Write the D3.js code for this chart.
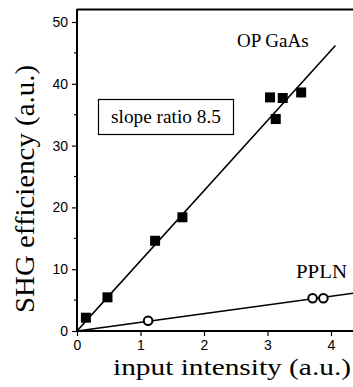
<!DOCTYPE html>
<html>
<head>
<meta charset="utf-8">
<script src="https://cdn.jsdelivr.net/npm/d3@7"></script>
<style>
  body { margin: 0; background: #fff; }
  svg { display: block; }
</style>
</head>
<body>
<div id="chart"></div>
<script>
// Chart size
const width = 353;
const height = 387;

// OP GaAs measurements (filled squares)
const gaasX = [0.14, 0.48, 1.23, 1.66, 3.04, 3.24, 3.13, 3.53];
const gaasY = [2.15, 5.45, 14.6, 18.4, 37.8, 37.7, 34.3, 38.6];

// PPLN measurements (open circles)
const pplnX = [1.12, 3.71, 3.88];
const pplnY = [1.67, 5.3, 5.3];

// Linear fit end points
const gaasFitX = [0, 4.07];
const gaasFitY = [0, 46.2];
const pplnFitX = [0, 4.45];
const pplnFitY = [0, 6.25];

// Tick values
const xTicks = [0, 1, 2, 3, 4];
const yTicks = [0, 10, 20, 30, 40, 50];
const yMinorTicks = [5, 15, 25, 35, 45];

const serif = '"Liberation Serif", "Times New Roman", serif';
const sans = '"Liberation Sans", Arial, sans-serif';

// Scales
const xScale = d3.scaleLinear().domain([0, 4]).range([77, 331]);
const yScale = d3.scaleLinear().domain([0, 50]).range([331, 22]);

const svg = d3.select('#chart')
    .append('svg')
    .attr('width', width)
    .attr('height', height);

// Clip the plotting area
svg.append('clipPath')
    .attr('id', 'plot-clip')
    .append('rect')
    .attr('x', xScale(0))
    .attr('y', 9)
    .attr('width', width - xScale(0))
    .attr('height', yScale(0) - 9);

// Frame: top border
svg.append('line')
    .attr('x1', xScale(0))
    .attr('x2', width)
    .attr('y1', 9.5)
    .attr('y2', 9.5)
    .attr('stroke', '#000')
    .attr('stroke-width', 2);

// x axis
const xAxis = svg.append('g')
    .attr('transform', `translate(0, ${yScale(0)})`)
    .call(d3.axisBottom(xScale).tickValues(xTicks).tickSize(5).tickPadding(4).tickFormat(d3.format('d')));

xAxis.select('.domain').remove();
xAxis.append('line')
    .attr('x1', xScale(0) - 1)
    .attr('x2', width)
    .attr('stroke', '#000')
    .attr('stroke-width', 2);

// y axis
const yAxis = svg.append('g')
    .attr('transform', `translate(${xScale(0)}, 0)`)
    .call(d3.axisLeft(yScale).tickValues(yTicks).tickSize(5).tickPadding(4).tickFormat(d3.format('d')));

yAxis.select('.domain').remove();
yAxis.append('line')
    .attr('y1', 9)
    .attr('y2', yScale(0) + 1)
    .attr('stroke', '#000')
    .attr('stroke-width', 2);

yAxis.selectAll('.minor')
    .data(yMinorTicks)
    .enter()
    .append('line')
    .attr('class', 'minor')
    .attr('x1', -3)
    .attr('x2', 0)
    .attr('y1', d => yScale(d))
    .attr('y2', d => yScale(d))
    .attr('stroke', '#000')
    .attr('stroke-width', 1.2);

svg.selectAll('.tick line').attr('stroke-width', 1.2);
svg.selectAll('.tick text')
    .attr('font-family', sans)
    .attr('font-size', 14)
    .attr('fill', '#000');

// Fit lines
const plot = svg.append('g').attr('clip-path', 'url(#plot-clip)');

const line = d3.line()
    .x(d => xScale(d[0]))
    .y(d => yScale(d[1]));

plot.append('path')
    .datum(d3.zip(gaasFitX, gaasFitY))
    .attr('d', line)
    .attr('fill', 'none')
    .attr('stroke', '#000')
    .attr('stroke-width', 1.6);

plot.append('path')
    .datum(d3.zip(pplnFitX, pplnFitY))
    .attr('d', line)
    .attr('fill', 'none')
    .attr('stroke', '#000')
    .attr('stroke-width', 1.6);

// OP GaAs squares
const sq = 10;
plot.selectAll('.square')
    .data(d3.zip(gaasX, gaasY))
    .enter()
    .append('rect')
    .attr('class', 'square')
    .attr('x', d => xScale(d[0]) - sq / 2)
    .attr('y', d => yScale(d[1]) - sq / 2)
    .attr('width', sq)
    .attr('height', sq)
    .attr('fill', '#000');

// PPLN circles
plot.selectAll('.circle')
    .data(d3.zip(pplnX, pplnY))
    .enter()
    .append('circle')
    .attr('class', 'circle')
    .attr('cx', d => xScale(d[0]))
    .attr('cy', d => yScale(d[1]))
    .attr('r', 4.3)
    .attr('fill', '#fff')
    .attr('stroke', '#000')
    .attr('stroke-width', 2);

// Series labels
svg.append('text')
    .attr('x', 237)
    .attr('y', 47)
    .attr('font-family', serif)
    .attr('font-size', 19)
    .text('OP GaAs');

svg.append('text')
    .attr('x', 296)
    .attr('y', 278)
    .attr('font-family', serif)
    .attr('font-size', 19)
    .attr('textLength', 51)
    .attr('lengthAdjust', 'spacingAndGlyphs')
    .text('PPLN');

// Slope ratio box
svg.append('rect')
    .attr('x', 98.5)
    .attr('y', 99.5)
    .attr('width', 135)
    .attr('height', 35)
    .attr('fill', '#fff')
    .attr('stroke', '#000')
    .attr('stroke-width', 1.2);

svg.append('text')
    .attr('x', 166)
    .attr('y', 123)
    .attr('text-anchor', 'middle')
    .attr('font-family', serif)
    .attr('font-size', 18)
    .attr('textLength', 110)
    .attr('lengthAdjust', 'spacingAndGlyphs')
    .text('slope ratio 8.5');

// Axis titles
svg.append('text')
    .attr('x', 113)
    .attr('y', 375)
    .attr('font-family', serif)
    .attr('font-size', 24)
    .attr('textLength', 238)
    .attr('lengthAdjust', 'spacingAndGlyphs')
    .text('input intensity (a.u.)');

svg.append('text')
    .attr('transform', 'translate(34, 313) rotate(-90)')
    .attr('font-family', serif)
    .attr('font-size', 27)
    .attr('textLength', 248)
    .attr('lengthAdjust', 'spacingAndGlyphs')
    .text('SHG efficiency (a.u.)');
</script>
</body>
</html>
